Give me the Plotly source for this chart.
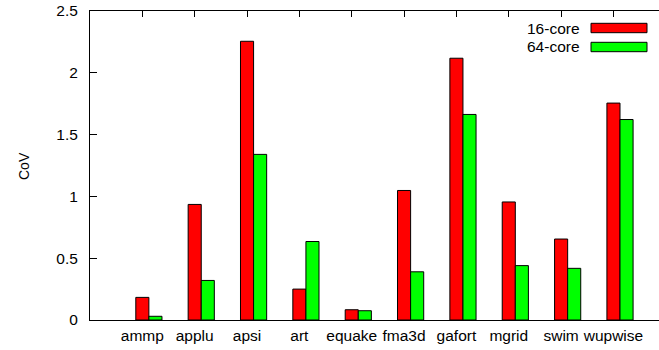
import plotly.graph_objects as go

categories = ["ammp", "applu", "apsi", "art", "equake", "fma3d", "gafort", "mgrid", "swim", "wupwise"]
cov_16 = [0.183, 0.935, 2.255, 0.25, 0.083, 1.048, 2.118, 0.955, 0.655, 1.755]
cov_64 = [0.03, 0.32, 1.34, 0.635, 0.075, 0.39, 1.663, 0.44, 0.418, 1.622]
series_names = ["16-core", "64-core"]
y_ticks = [0, 0.5, 1, 1.5, 2, 2.5]
y_tick_text = ["0", "0.5", "1", "1.5", "2", "2.5"]

FONT = "Liberation Sans, Arial, Helvetica, sans-serif"
FS = 15.5
RED = "#ff0000"
GREEN = "#00ff00"
BAR_W = 0.25

idx = list(range(len(categories)))

fig = go.Figure()
fig.add_trace(go.Bar(x=idx, y=cov_16, width=BAR_W, name=series_names[0],
                     marker=dict(color=RED, line=dict(color="black", width=1)),
                     showlegend=False))
fig.add_trace(go.Bar(x=[i + BAR_W for i in idx], y=cov_64, width=BAR_W, name=series_names[1],
                     marker=dict(color=GREEN, line=dict(color="black", width=1)),
                     showlegend=False))

# plot area geometry (pixels)
L, T, B = 90, 11, 30
W, H = 659, 350
pw = W - L
ph = H - T - B

def px(xp):
    return (xp - L) / pw

def py(yp):
    return (H - B - yp) / ph

# manual gnuplot-style key
key = [(series_names[0], RED, 28), (series_names[1], GREEN, 47)]
for name, col, yc in key:
    fig.add_shape(type="rect", xref="paper", yref="paper",
                  x0=px(591), x1=px(647), y0=py(yc + 4.7), y1=py(yc - 4.7),
                  fillcolor=col, line=dict(color="black", width=1))
    fig.add_annotation(xref="paper", yref="paper", x=px(582), y=py(yc),
                       text=name, showarrow=False, xanchor="right", yanchor="middle",
                       font=dict(family=FONT, size=FS, color="black"))

fig.add_annotation(xref="paper", yref="paper", x=px(24), y=py(166), text="CoV",
                   textangle=-90, showarrow=False, xanchor="center", yanchor="middle",
                   font=dict(family=FONT, size=14, color="black"))

fig.update_layout(
    width=W, height=H,
    margin=dict(l=L, r=0, t=T, b=B, pad=0),
    paper_bgcolor="white", plot_bgcolor="white",
    barmode="overlay",
    font=dict(family=FONT, size=FS, color="black"),
    xaxis=dict(range=[-1, 9.87], tickvals=idx, ticktext=categories,
               showline=True, linecolor="black", linewidth=1, mirror="allticks",
               ticks="inside", ticklen=6, tickcolor="black", showgrid=False,
               zeroline=False, layer="below traces", ticklabelstandoff=1),
    yaxis=dict(range=[0, 2.5], tickvals=y_ticks, ticktext=y_tick_text,
               showline=True, linecolor="black", linewidth=1, mirror=False,
               ticks="inside", ticklen=7, tickcolor="black", showgrid=False,
               zeroline=False, ticklabelstandoff=8),
)

fig.write_html("out.html")
